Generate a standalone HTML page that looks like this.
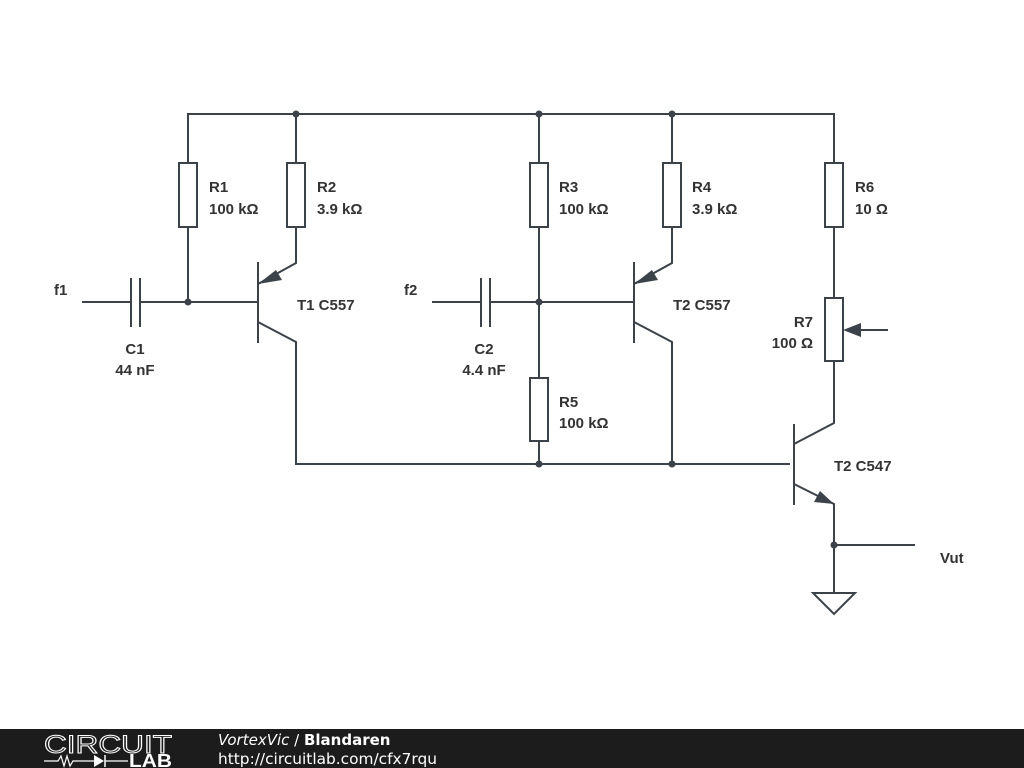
<!DOCTYPE html>
<html><head><style>
html,body{margin:0;padding:0;background:#fff;}
svg{display:block;}
.l{font-family:"Liberation Sans",sans-serif;font-weight:bold;font-size:15px;fill:#333;}
</style></head><body>
<svg width="1024" height="768" viewBox="0 0 1024 768">
<g stroke="#3b4249" stroke-width="2" fill="none">
<polyline points="188,163 188,114 834,114 834,163"/>
<line x1="296" y1="114" x2="296" y2="163"/>
<line x1="539" y1="114" x2="539" y2="163"/>
<line x1="672" y1="114" x2="672" y2="163"/>
<rect x="179" y="163" width="18" height="64" fill="#fff"/>
<rect x="287" y="163" width="18" height="64" fill="#fff"/>
<rect x="530" y="163" width="18" height="64" fill="#fff"/>
<rect x="663" y="163" width="18" height="64" fill="#fff"/>
<rect x="825" y="163" width="18" height="64" fill="#fff"/>
<rect x="530" y="378" width="18" height="63" fill="#fff"/>
<rect x="825" y="298" width="18" height="63" fill="#fff"/>
<line x1="188" y1="227" x2="188" y2="302"/>
<line x1="82" y1="302" x2="131" y2="302"/>
<line x1="131" y1="278" x2="131" y2="327"/>
<line x1="140" y1="278" x2="140" y2="327"/>
<line x1="140" y1="302" x2="258" y2="302"/>
<line x1="258" y1="262" x2="258" y2="343"/>
<polyline points="296,227 296,263 258,284"/>
<polyline points="258,322 296,342 296,464 790,464"/>
<line x1="432" y1="302" x2="481" y2="302"/>
<line x1="481" y1="278" x2="481" y2="327"/>
<line x1="490" y1="278" x2="490" y2="327"/>
<line x1="490" y1="302" x2="634" y2="302"/>
<line x1="539" y1="227" x2="539" y2="378"/>
<line x1="539" y1="441" x2="539" y2="464"/>
<line x1="634" y1="262" x2="634" y2="343"/>
<polyline points="672,227 672,263 634,284"/>
<polyline points="634,322 672,342 672,464"/>
<line x1="834" y1="227" x2="834" y2="298"/>
<polyline points="834,361 834,423 794,444"/>
<line x1="794" y1="424" x2="794" y2="505"/>
<line x1="888" y1="330" x2="855" y2="330"/>
<polyline points="794,484 834,504 834,593"/>
<line x1="834" y1="545" x2="915" y2="545"/>
<polygon points="813,593 855,593 834,614"/>
</g>
<g fill="#3b4249">
<polygon points="258,284 276,270 282,280"/>
<polygon points="634,284 652,270 658,280"/>
<polygon points="843,330 861,323 861,337"/>
<polygon points="834,504 814,502 820,491"/>
<circle cx="296" cy="114" r="3.5"/><circle cx="539" cy="114" r="3.5"/><circle cx="672" cy="114" r="3.5"/>
<circle cx="188" cy="302" r="3.5"/><circle cx="539" cy="302" r="3.5"/>
<circle cx="539" cy="464" r="3.5"/><circle cx="672" cy="464" r="3.5"/><circle cx="834" cy="545" r="3.5"/>
</g>
<g class="l">
<text x="209" y="192">R1</text><text x="209" y="214">100 kΩ</text>
<text x="317" y="192">R2</text><text x="317" y="214">3.9 kΩ</text>
<text x="559" y="192">R3</text><text x="559" y="214">100 kΩ</text>
<text x="692" y="192">R4</text><text x="692" y="214">3.9 kΩ</text>
<text x="855" y="192">R6</text><text x="855" y="214">10 Ω</text>
<text x="559" y="407">R5</text><text x="559" y="428">100 kΩ</text>
<text x="813" y="327" text-anchor="end">R7</text>
<text x="813" y="348" text-anchor="end">100 Ω</text>
<text x="54" y="295">f1</text><text x="404" y="295">f2</text>
<text x="135" y="354" text-anchor="middle">C1</text><text x="135" y="375" text-anchor="middle">44 nF</text>
<text x="484" y="354" text-anchor="middle">C2</text><text x="484" y="375" text-anchor="middle">4.4 nF</text>
<text x="297" y="310">T1 C557</text><text x="673" y="310">T2 C557</text>
<text x="834" y="471">T2 C547</text>
<text x="940" y="563">Vut</text>
</g>
<rect x="0" y="729" width="1024" height="39" fill="#1c1c1c"/>
<text x="44" y="753" font-family="Liberation Sans,sans-serif" font-size="25" fill="none" stroke="#fff" stroke-width="1" textLength="128" lengthAdjust="spacingAndGlyphs">CIRCUIT</text>
<polyline points="44,761 58,761 61,756 64,766 67,756 70,766 73,761 94,761" stroke="#fff" stroke-width="1.2" fill="none"/>
<polygon points="94,755 94,767 104,761" fill="#fff"/>
<line x1="105" y1="755" x2="105" y2="767" stroke="#fff" stroke-width="1.5"/>
<line x1="105" y1="761" x2="128" y2="761" stroke="#fff" stroke-width="1.2"/>
<text x="129" y="767" font-family="Liberation Sans,sans-serif" font-weight="bold" font-size="18" fill="#fff" textLength="43" lengthAdjust="spacingAndGlyphs">LAB</text>
<text x="218" y="745" font-family="DejaVu Sans,sans-serif" font-size="15" fill="#fff"><tspan font-style="italic">VortexVic</tspan> / <tspan font-weight="bold">Blandaren</tspan></text>
<text x="218" y="764" font-family="DejaVu Sans,sans-serif" font-size="15" fill="#fff" textLength="219" lengthAdjust="spacingAndGlyphs">http://circuitlab.com/cfx7rqu</text>
</svg>
</body></html>
